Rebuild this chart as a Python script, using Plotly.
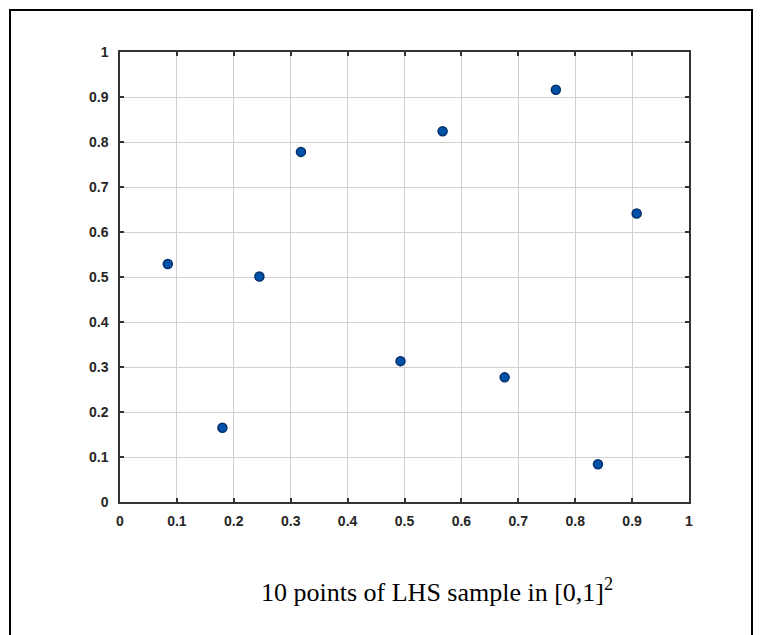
import plotly.graph_objects as go

# Data: 10-point LHS sample
x_vals = [0.084, 0.180, 0.245, 0.318, 0.493, 0.567, 0.676, 0.766, 0.840, 0.908]
y_vals = [0.529, 0.165, 0.501, 0.778, 0.313, 0.824, 0.277, 0.916, 0.084, 0.641]
tick_vals = [0, 0.1, 0.2, 0.3, 0.4, 0.5, 0.6, 0.7, 0.8, 0.9, 1]
tick_text = ["0", "0.1", "0.2", "0.3", "0.4", "0.5", "0.6", "0.7", "0.8", "0.9", "1"]
caption = "10 points of LHS sample in [0,1]<sup>2</sup>"

W, H = 762, 635
L, R, T, B = 120, 689, 52, 502  # plot area in pixels


def px_x(px):
    return (px - L) / (R - L)


def px_y(py):
    return (B - py) / (B - T)


fig = go.Figure()
fig.add_trace(go.Scatter(
    x=x_vals, y=y_vals, mode="markers",
    marker=dict(size=9, color="#0052a8", line=dict(color="#002f6c", width=1.5)),
    showlegend=False, hoverinfo="x+y",
))

axis_common = dict(
    range=[0, 1], tickvals=tick_vals, ticktext=tick_text,
    showgrid=True, gridcolor="#d0d0d0", gridwidth=1,
    showline=True, linecolor="#333333", linewidth=1.5, mirror="ticks",
    ticks="inside", ticklen=4, tickwidth=1.5, tickcolor="#333333",
    zeroline=False,
    tickfont=dict(family="Liberation Sans, Arial", size=14, color="#262626", weight="bold"),
    fixedrange=True,
)

fig.update_layout(
    width=W, height=H,
    margin=dict(l=L, r=W - R, t=T, b=H - B, pad=0),
    paper_bgcolor="white", plot_bgcolor="white",
    xaxis=dict(**axis_common, ticklabelstandoff=5),
    yaxis=dict(**axis_common, ticklabelstandoff=7),
    annotations=[dict(
        text=caption, x=px_x(437), y=px_y(590), xref="paper", yref="paper",
        xanchor="center", yanchor="middle", showarrow=False,
        font=dict(family="Liberation Serif, Times New Roman", size=26, color="black"),
    )],
    shapes=[
        dict(type="line", xref="paper", yref="paper", x0=px_x(10), x1=px_x(10),
             y0=px_y(9), y1=px_y(640), line=dict(color="black", width=2)),
        dict(type="line", xref="paper", yref="paper", x0=px_x(9), x1=px_x(753),
             y0=px_y(10), y1=px_y(10), line=dict(color="black", width=2)),
        dict(type="line", xref="paper", yref="paper", x0=px_x(752), x1=px_x(752),
             y0=px_y(9), y1=px_y(640), line=dict(color="black", width=2)),
    ],
)

fig.write_html(
    "out.html",
    config={"displayModeBar": False},
    post_script="document.body.style.margin='0px'; document.body.style.overflow='hidden';",
)
